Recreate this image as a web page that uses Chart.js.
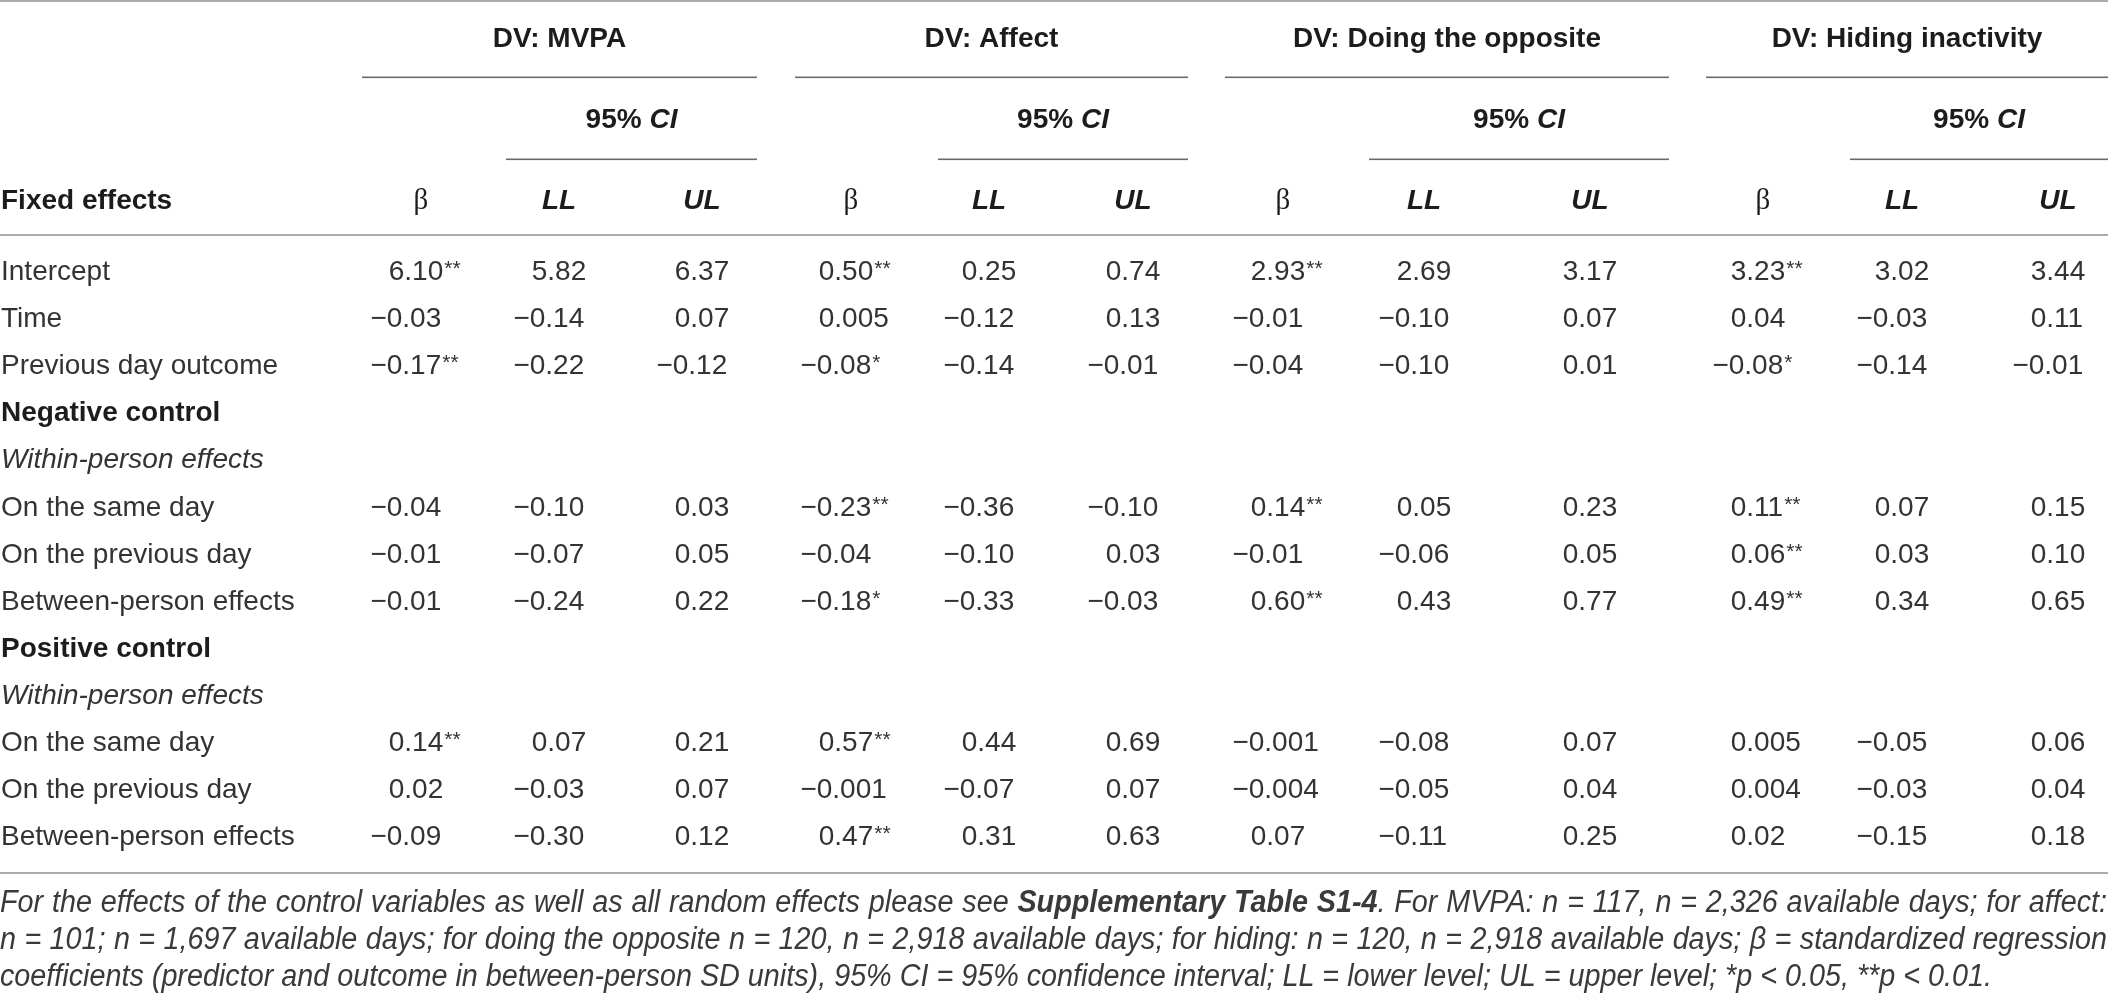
<!DOCTYPE html>
<html>
<head>
<meta charset="utf-8">
<script src="https://cdn.jsdelivr.net/npm/chart.js@4.4.1/dist/chart.umd.min.js"></script>
<style>
html, body { margin: 0; padding: 0; background: #fff; }
#wrap { width: 2108px; height: 993px; }
</style>
</head>
<body>
<div id="wrap"><canvas id="tbl" width="2108" height="993"></canvas></div>
<script>
// row labels and how each row is styled
const rowLabels = ["Intercept", "Time", "Previous day outcome", "Negative control", "Within-person effects",
  "On the same day", "On the previous day", "Between-person effects", "Positive control",
  "Within-person effects", "On the same day", "On the previous day", "Between-person effects"];
const rowKinds = ["plain", "plain", "plain", "bold", "italic", "plain", "plain", "plain", "bold", "italic", "plain", "plain", "plain"];

const dvNames = ["DV: MVPA", "DV: Affect", "DV: Doing the opposite", "DV: Hiding inactivity"];
const subHeads = ["β", "LL", "UL"];

// DV: MVPA
const mvpaBeta = [6.10, -0.03, -0.17, null, null, -0.04, -0.01, -0.01, null, null, 0.14, 0.02, -0.09];
const mvpaSig  = ["**", "", "**", "", "", "", "", "", "", "", "**", "", ""];
const mvpaLL   = [5.82, -0.14, -0.22, null, null, -0.10, -0.07, -0.24, null, null, 0.07, -0.03, -0.30];
const mvpaUL   = [6.37, 0.07, -0.12, null, null, 0.03, 0.05, 0.22, null, null, 0.21, 0.07, 0.12];

// DV: Affect
const affectBeta = [0.50, 0.005, -0.08, null, null, -0.23, -0.04, -0.18, null, null, 0.57, -0.001, 0.47];
const affectSig  = ["**", "", "*", "", "", "**", "", "*", "", "", "**", "", "**"];
const affectLL   = [0.25, -0.12, -0.14, null, null, -0.36, -0.10, -0.33, null, null, 0.44, -0.07, 0.31];
const affectUL   = [0.74, 0.13, -0.01, null, null, -0.10, 0.03, -0.03, null, null, 0.69, 0.07, 0.63];

// DV: Doing the opposite
const oppBeta = [2.93, -0.01, -0.04, null, null, 0.14, -0.01, 0.60, null, null, -0.001, -0.004, 0.07];
const oppSig  = ["**", "", "", "", "", "**", "", "**", "", "", "", "", ""];
const oppLL   = [2.69, -0.10, -0.10, null, null, 0.05, -0.06, 0.43, null, null, -0.08, -0.05, -0.11];
const oppUL   = [3.17, 0.07, 0.01, null, null, 0.23, 0.05, 0.77, null, null, 0.07, 0.04, 0.25];

// DV: Hiding inactivity
const hideBeta = [3.23, 0.04, -0.08, null, null, 0.11, 0.06, 0.49, null, null, 0.005, 0.004, 0.02];
const hideSig  = ["**", "", "*", "", "", "**", "**", "**", "", "", "", "", ""];
const hideLL   = [3.02, -0.03, -0.14, null, null, 0.07, 0.03, 0.34, null, null, -0.05, -0.03, -0.15];
const hideUL   = [3.44, 0.11, -0.01, null, null, 0.15, 0.10, 0.65, null, null, 0.06, 0.04, 0.18];

const footnote = [
  [{t: "For the effects of the control variables as well as all random effects please see "},
   {t: "Supplementary Table S1-4", b: true},
   {t: ". For MVPA: n = 117, n = 2,326 available days; for affect:"}],
  [{t: "n = 101; n = 1,697 available days; for doing the opposite n = 120, n = 2,918 available days; for hiding: n = 120, n = 2,918 available days; β = standardized regression"}],
  [{t: "coefficients (predictor and outcome in between-person SD units), 95% CI = 95% confidence interval; LL = lower level; UL = upper level; *p < 0.05, **p < 0.01."}]
];

// layout (page pixels)
const W = 2108, H = 993;
const colCenter = [416, 559, 702, 846, 989, 1133, 1278, 1424, 1590, 1758, 1902, 2058];
const groupStart = [362, 795, 1225, 1706];
const groupEnd = [757, 1188, 1669, 2108];
const ciStart = [506, 938, 1369, 1850];
const firstBaseline = 280, rowStep = 47.1;

const FONT = '"Liberation Sans", Arial, Helvetica, sans-serif';
const SERIF = '"Liberation Serif", "DejaVu Serif", serif';

const columns = [
  [mvpaBeta, mvpaSig], [mvpaLL], [mvpaUL],
  [affectBeta, affectSig], [affectLL], [affectUL],
  [oppBeta, oppSig], [oppLL], [oppUL],
  [hideBeta, hideSig], [hideLL], [hideUL]
];

function fmt(v) {
  const d = (v !== 0 && Math.abs(v) < 0.01) ? 3 : 2;
  return v.toFixed(d).replace('-', '\u2212');
}

const datasets = columns.map((col, c) => {
  const pts = [];
  col[0].forEach((v, r) => {
    if (v === null) return;
    pts.push({x: colCenter[c], y: r, v: v, s: col[1] ? col[1][r] : ''});
  });
  return {data: pts, pointRadius: 0, pointHoverRadius: 0, showLine: false};
});

function buildWords(segs) {
  const words = [];
  let cur = null;
  segs.forEach(seg => {
    seg.t.split(' ').forEach((p, k) => {
      if (k > 0) { if (cur) words.push(cur); cur = null; }
      if (p === '') return;
      if (!cur) cur = [];
      cur.push({t: p, b: !!seg.b});
    });
  });
  if (cur) words.push(cur);
  return words;
}

const tablePlugin = {
  id: 'tableText',
  afterDatasetsDraw(chart) {
    const ctx = chart.ctx;
    const xs = chart.scales.x, ys = chart.scales.y;
    const px = v => xs.getPixelForValue(v);
    const py = v => ys.getPixelForValue((v - firstBaseline) / rowStep);
    ctx.save();
    ctx.textBaseline = 'alphabetic';

    // rules
    ctx.fillStyle = '#ababab';
    ctx.fillRect(px(0), py(0), px(W) - px(0), 2);
    ctx.fillRect(px(0), py(234), px(W) - px(0), 2);
    ctx.fillRect(px(0), py(872), px(W) - px(0), 2);
    ctx.fillStyle = '#6a6a6a';
    for (let g = 0; g < 4; g++) {
      ctx.fillRect(px(groupStart[g]), py(76.5), px(groupEnd[g]) - px(groupStart[g]), 1.6);
      ctx.fillRect(px(ciStart[g]), py(158.5), px(groupEnd[g]) - px(ciStart[g]), 1.6);
    }

    // DV headers
    ctx.fillStyle = '#1c1c1c';
    ctx.textAlign = 'center';
    ctx.font = 'bold 28px ' + FONT;
    dvNames.forEach((n, g) => ctx.fillText(n, px((groupStart[g] + groupEnd[g]) / 2), py(47)));

    // 95% CI
    ctx.textAlign = 'left';
    for (let g = 0; g < 4; g++) {
      ctx.font = 'bold 28px ' + FONT;
      const a = '95% ', wa = ctx.measureText(a).width;
      ctx.font = 'italic bold 28px ' + FONT;
      const wb = ctx.measureText('CI').width;
      const cx = px((ciStart[g] + groupEnd[g]) / 2) - (wa + wb) / 2;
      ctx.font = 'bold 28px ' + FONT;
      ctx.fillText(a, cx, py(128));
      ctx.font = 'italic bold 28px ' + FONT;
      ctx.fillText('CI', cx + wa, py(128));
    }

    // column headers
    ctx.font = 'bold 28px ' + FONT;
    ctx.fillText('Fixed effects', px(1), py(209));
    ctx.textAlign = 'center';
    colCenter.forEach((cx, c) => {
      const h = subHeads[c % 3];
      ctx.font = h === 'β' ? '29px ' + SERIF : 'italic bold 28px ' + FONT;
      ctx.fillText(h, px(cx + (h === 'β' ? 5 : 0)), py(209));
    });

    // row labels
    ctx.textAlign = 'left';
    rowLabels.forEach((lab, r) => {
      const k = rowKinds[r];
      ctx.font = (k === 'bold' ? 'bold ' : k === 'italic' ? 'italic ' : '') + '28px ' + FONT;
      ctx.fillStyle = k === 'bold' ? '#1c1c1c' : '#333';
      ctx.fillText(lab, px(1), ys.getPixelForValue(r));
    });

    // cell values, placed at each point of the datasets
    ctx.fillStyle = '#333';
    ctx.font = '28px ' + FONT;
    const half = ctx.measureText('0.00').width / 2;
    chart.data.datasets.forEach((ds, c) => {
      const meta = chart.getDatasetMeta(c);
      meta.data.forEach((el, i) => {
        const d = ds.data[i];
        const str = fmt(d.v);
        ctx.font = '28px ' + FONT;
        let sx = el.x - half;
        if (str[0] === '\u2212') sx -= ctx.measureText('\u2212').width + 2;
        ctx.fillText(str, sx, el.y);
        if (d.s) {
          const w = ctx.measureText(str).width;
          ctx.font = '21px ' + FONT;
          ctx.fillText(d.s, sx + w + 1, el.y - 5);
        }
      });
    });

    // footnote: tall italic, squeezed horizontally, justified except the last line
    ctx.fillStyle = '#3a3a3a';
    const fs = 31;
    const lines = footnote.map(buildWords);
    const wordW = word => word.reduce((s, p) => {
      ctx.font = (p.b ? 'italic bold ' : 'italic ') + fs + 'px ' + FONT;
      return s + ctx.measureText(p.t).width;
    }, 0);
    ctx.font = 'italic ' + fs + 'px ' + FONT;
    const sp = ctx.measureText(' ').width;
    const last = lines[lines.length - 1];
    const nat = last.reduce((s, w) => s + wordW(w), 0) + sp * (last.length - 1);
    const squeeze = 1992 / nat;
    const base = [912, 949, 986];
    lines.forEach((words, li) => {
      const sum = words.reduce((s, w) => s + wordW(w), 0) * squeeze;
      let gap = sp * squeeze;
      if (li < lines.length - 1) gap = (px(W) - px(0) - 1 - sum) / (words.length - 1);
      let xx = px(0);
      const yb = py(base[li]);
      words.forEach(word => {
        word.forEach(p => {
          ctx.font = (p.b ? 'italic bold ' : 'italic ') + fs + 'px ' + FONT;
          const w = ctx.measureText(p.t).width;
          ctx.save();
          ctx.translate(xx, yb);
          ctx.scale(squeeze, 1);
          ctx.fillText(p.t, 0, 0);
          ctx.restore();
          xx += w * squeeze;
        });
        xx += gap;
      });
    });
    ctx.restore();
  }
};

new Chart(document.getElementById('tbl'), {
  type: 'scatter',
  data: {datasets: datasets},
  options: {
    responsive: false,
    animation: false,
    events: [],
    layout: {padding: 0},
    plugins: {legend: {display: false}, tooltip: {enabled: false}},
    scales: {
      x: {type: 'linear', display: false, min: 0, max: W},
      y: {type: 'linear', display: false, reverse: true,
          min: -firstBaseline / rowStep, max: (H - firstBaseline) / rowStep}
    }
  },
  plugins: [tablePlugin]
});
</script>
</body>
</html>
